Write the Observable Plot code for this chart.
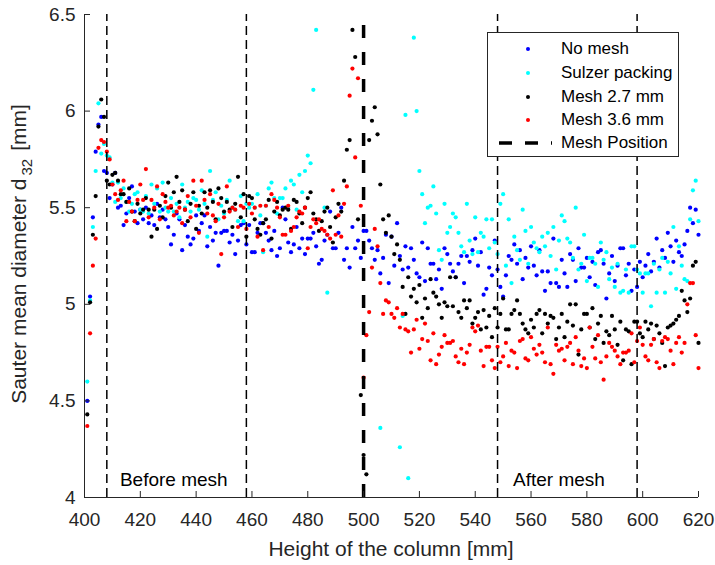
<!DOCTYPE html>
<html><head><meta charset="utf-8">
<script src="https://cdn.jsdelivr.net/npm/d3@7"></script>
<script src="https://cdn.jsdelivr.net/npm/@observablehq/plot@0.6"></script>
<style>
body{margin:0;background:#fff;font-family:"Liberation Sans",Arial,sans-serif;}
#wrap{position:relative;width:715px;height:565px;}
#legend{position:absolute;left:487px;top:32px;width:192px;height:125px;box-sizing:border-box;border:1px solid #262626;background:#fff;}
.lm{position:absolute;left:0;width:70px;height:20px;}
.lt{position:absolute;left:73px;height:20px;line-height:20px;font-size:17px;color:#000;white-space:nowrap;}
</style></head><body>
<div id="wrap"></div>
<script>
// ---- data (d32 in mm, one value per mm of column height from 401 to 620) ----
const heights = d3.range(401, 621);
const noMesh = [
4.50,5.04,5.45,5.79,5.93,5.97,5.69,5.68,5.55,5.62,
5.68,5.50,5.51,5.41,5.47,5.55,5.61,5.48,5.42,5.49,
5.44,5.50,5.42,5.46,5.41,5.52,5.45,5.49,5.44,5.40,
5.31,5.36,5.47,5.44,5.28,5.41,5.35,5.31,5.34,5.46,
5.38,5.42,5.46,5.30,5.40,5.33,5.37,5.20,5.37,5.38,
5.38,5.32,5.36,5.26,5.33,5.41,5.42,5.31,5.41,5.27,
5.27,5.37,5.42,5.42,5.37,5.33,5.28,5.38,5.25,5.29,
5.50,5.44,5.32,5.27,5.31,5.40,5.29,5.34,5.26,5.34,
5.34,5.37,5.30,5.21,5.23,5.33,5.36,5.48,5.29,5.29,
5.37,5.50,5.23,5.29,5.19,5.40,5.29,5.33,5.24,5.38,
5.38,5.33,5.29,5.23,5.28,5.16,5.24,5.36,5.11,5.35,
5.20,5.42,5.25,5.18,5.30,5.19,5.29,5.23,5.16,5.14,
5.32,5.12,5.29,5.21,5.21,5.13,5.18,5.08,5.29,5.26,
5.21,5.17,5.14,5.21,5.25,5.11,5.25,5.22,5.28,5.34,
5.20,5.27,5.05,5.08,5.19,5.15,5.33,5.18,5.09,5.04,
5.15,5.25,5.23,5.31,5.21,5.28,5.13,5.24,5.19,5.30,
5.20,5.15,5.28,5.17,5.07,5.17,5.11,5.34,5.11,5.09,
5.23,5.16,5.09,5.26,5.23,5.12,5.29,5.19,5.19,5.24,
5.14,5.22,5.10,5.27,5.28,5.21,5.03,5.16,5.25,5.12,
5.20,5.29,5.29,5.15,5.21,5.07,5.18,5.09,5.22,5.14,
5.20,5.26,5.17,5.22,5.34,5.19,5.28,5.24,5.37,5.30,
5.22,5.33,5.27,5.25,5.31,5.38,5.50,5.42,5.49,5.36];
const sulzer = [
4.60,5.02,5.40,5.69,6.04,5.78,5.83,5.77,5.76,5.63,
5.53,5.63,5.55,5.60,5.53,5.48,5.52,5.57,5.58,5.49,
5.48,5.56,5.47,5.62,5.52,5.60,5.48,5.63,5.50,5.48,
5.55,5.48,5.52,5.45,5.62,5.50,5.53,5.48,5.55,5.54,
5.49,5.59,5.52,5.35,5.69,5.54,5.58,5.44,5.51,5.47,
5.54,5.64,5.50,5.49,5.43,5.56,5.43,5.52,5.50,5.52,
5.50,5.57,5.46,5.27,5.51,5.60,5.63,5.55,5.47,5.55,
5.55,5.60,5.50,5.64,5.62,5.49,5.67,5.58,5.69,5.77,
5.73,6.11,6.42,null,null,5.50,5.06,null,null,null,
null,null,null,null,null,null,null,null,null,null,
null,null,null,null,null,4.36,null,null,null,null,
null,null,4.26,4.94,5.98,4.10,null,6.38,6.00,5.69,
5.57,5.42,5.50,5.51,5.61,5.47,5.28,5.23,5.52,5.37,
5.40,5.47,5.45,5.37,5.30,5.27,5.52,5.33,5.26,5.45,
5.27,5.37,5.35,5.44,5.29,5.44,5.32,5.26,5.52,5.57,
5.20,5.44,5.11,5.35,5.28,5.23,5.49,5.38,5.21,5.40,
5.32,5.29,5.27,5.35,5.30,5.37,5.25,5.40,5.18,5.33,
5.46,5.43,5.34,5.32,5.24,5.50,5.18,5.21,5.36,5.12,
5.24,5.24,5.21,5.09,5.32,5.23,5.27,5.13,5.19,5.09,
5.21,5.06,5.07,5.18,5.06,5.30,5.30,5.18,5.16,5.06,
5.16,5.16,4.99,5.21,5.06,5.18,5.24,5.06,5.22,5.16,
5.40,5.08,5.30,5.20,5.13,5.12,5.44,5.59,5.64,5.43];
const mesh27 = [
4.43,5.01,5.36,5.56,5.92,6.06,5.97,5.64,5.62,5.67,
5.68,5.64,5.57,5.57,5.53,5.60,5.48,5.43,5.52,5.47,
5.49,5.55,5.49,5.35,5.49,5.39,5.51,5.45,5.56,5.63,
5.50,5.58,5.66,5.53,5.59,5.49,5.43,5.52,5.58,5.39,
5.51,5.47,5.58,5.50,5.59,5.53,5.44,5.60,5.55,5.48,
5.53,5.49,5.40,5.52,5.66,5.45,5.57,5.35,5.56,5.55,
5.44,5.39,5.36,5.42,5.44,5.54,5.34,5.48,5.53,5.46,
5.49,5.50,5.49,5.39,5.54,5.53,5.47,5.42,5.50,5.55,
5.58,5.47,5.44,5.38,5.43,5.48,5.50,5.40,5.32,5.45,
5.52,5.48,5.64,5.80,5.85,6.42,6.28,5.44,4.53,4.22,
4.12,5.85,5.95,6.02,5.88,5.62,5.44,5.37,5.46,5.35,
5.26,5.31,5.23,5.09,4.95,5.14,5.04,5.08,5.01,5.10,
4.93,5.03,4.98,5.13,5.06,5.04,5.00,4.93,5.01,4.99,
5.14,4.99,5.14,4.96,4.93,5.02,4.98,5.02,4.90,4.93,
4.96,4.87,4.97,4.88,4.94,4.83,4.98,4.88,4.95,5.03,
4.87,4.87,4.95,4.97,5.02,4.95,4.90,4.87,4.85,4.92,
4.88,4.95,4.97,4.85,4.95,4.90,4.94,4.93,4.82,4.88,
4.95,4.83,4.91,5.00,4.89,5.00,4.74,4.87,4.95,4.95,
4.88,4.98,4.82,4.90,4.94,4.80,4.86,4.84,4.94,4.87,
4.79,4.91,4.71,4.87,4.86,4.69,4.91,4.91,4.85,4.83,
4.91,4.87,4.90,4.82,4.89,4.85,4.80,4.68,4.88,4.89,
4.90,4.92,4.94,5.07,5.02,4.96,5.03,5.20,5.22,4.80];
const mesh36 = [
4.37,4.85,5.20,5.34,5.81,5.85,5.84,5.79,5.75,5.62,
5.57,5.54,5.59,5.64,5.43,5.53,5.48,5.43,5.54,5.62,
5.54,5.70,5.45,5.54,5.50,5.61,5.44,5.57,5.53,5.50,
5.51,5.46,5.48,5.50,5.42,5.49,5.56,5.45,5.64,5.51,
5.37,5.64,5.54,5.47,5.57,5.46,5.43,5.52,5.26,5.45,
5.61,5.48,5.50,5.49,5.40,5.51,5.50,5.39,5.52,5.47,
5.50,5.35,5.51,5.28,5.51,5.40,5.57,5.54,5.50,5.45,
5.36,5.36,5.51,5.38,5.40,5.45,5.48,5.47,5.50,5.29,
5.40,5.44,5.42,5.44,5.39,5.38,5.36,5.34,5.59,5.36,
5.46,5.35,5.52,5.61,6.08,6.22,5.76,6.17,5.51,4.62,
4.84,4.96,5.19,5.39,5.30,5.11,4.95,5.02,5.01,4.95,
4.93,4.98,4.88,4.95,4.87,4.86,4.75,4.87,4.92,4.77,
4.82,4.90,4.81,4.71,4.85,4.69,4.74,4.78,4.84,4.80,
4.80,4.81,4.73,4.70,4.77,4.69,4.75,4.79,4.88,4.86,
4.89,4.76,4.68,4.78,4.78,4.71,4.67,4.78,4.70,4.73,
4.80,4.68,4.76,4.75,4.67,4.81,4.82,4.72,4.71,4.83,
4.77,4.74,4.79,4.75,4.70,4.88,4.69,4.64,4.79,4.76,
4.77,4.71,4.78,4.80,4.69,4.83,4.76,4.68,4.72,4.67,
4.88,4.78,4.72,4.84,4.70,4.61,4.73,4.80,4.78,4.76,
4.73,4.69,4.75,4.75,4.76,4.85,4.70,4.81,4.88,4.79,
4.73,4.71,4.79,4.82,4.70,4.67,4.81,4.83,4.82,4.76,
4.69,4.80,4.83,4.75,4.80,5.00,5.11,5.11,4.84,4.67];

const seriesNames = ["No mesh", "Sulzer packing", "Mesh 2.7 mm", "Mesh 3.6 mm"];
const seriesColors = ["#0000ff", "#00ffff", "#000000", "#ff0000"];
const sectionLines = [408, 458, 548, 598];
const meshPosition = [500];
const xTicks = [400, 420, 440, 460, 480, 500, 520, 540, 560, 580, 600, 620];
const yTicks = [4, 4.5, 5, 5.5, 6, 6.5];
const annotations = [
  {label: "Before mesh", x: 432, y: 4.09},
  {label: "After mesh", x: 570, y: 4.09}
];

const allSeries = [noMesh, sulzer, mesh27, mesh36];
const rows = [];
allSeries.forEach((vals, s) => vals.forEach((v, i) => {
  if (v != null) rows.push({height: heights[i], d32: v, series: seriesNames[s]});
}));

const axisColor = "#262626";
const chart = Plot.plot({
  width: 715, height: 565,
  marginLeft: 84, marginRight: 17, marginTop: 14, marginBottom: 68,
  x: {domain: [400, 620]},
  y: {domain: [4, 6.5]},
  color: {domain: seriesNames, range: seriesColors},
  style: {fontFamily: "'Liberation Sans', Arial, sans-serif", fontSize: "19px", color: axisColor, background: "white"},
  marks: [
    Plot.dot(rows, {x: "height", y: "d32", fill: "series", r: 2.1}),
    Plot.ruleX(sectionLines, {y1: 4, y2: 6.5, stroke: "#000", strokeWidth: 1.5, strokeDasharray: "9,5"}),
    Plot.ruleX(meshPosition, {y1: 4, y2: 6.5, stroke: "#000", strokeWidth: 3.5, strokeDasharray: "13,14"}),
    Plot.text(annotations, {x: "x", y: "y", text: "label", fontSize: 19, fill: "#000"}),
    Plot.ruleY([4], {stroke: axisColor}),
    Plot.ruleX([400], {stroke: axisColor}),
    Plot.axisX({ticks: xTicks, tickSize: -6, tickFormat: () => "", label: null, stroke: axisColor}),
    Plot.axisX({ticks: xTicks, tickSize: 0, tickPadding: 15, tickFormat: d => String(d), label: null, fill: axisColor}),
    Plot.axisY({ticks: yTicks, tickSize: -6, tickFormat: () => "", label: null, stroke: axisColor}),
    Plot.axisY({ticks: yTicks, tickSize: 0, tickPadding: 9, tickFormat: d => String(d), label: null, fill: axisColor})
  ]
});

const svg = d3.select(chart);
svg.append("text")
  .attr("x", 391).attr("y", 556)
  .attr("text-anchor", "middle")
  .attr("font-size", 21).attr("fill", axisColor)
  .text("Height of the column [mm]");
const yl = svg.append("text")
  .attr("transform", "translate(26,254) rotate(-90)")
  .attr("text-anchor", "middle")
  .attr("font-size", 21).attr("fill", axisColor)
  .style("white-space", "pre");
yl.append("tspan").text("Sauter mean diameter d");
yl.append("tspan").attr("font-size", 15).attr("dx", 3).attr("dy", 6).text("32");
yl.append("tspan").attr("dx", 8).attr("dy", -6).text("[mm]");

const wrap = document.getElementById("wrap");
wrap.appendChild(chart);

// ---- legend ----
const legend = document.createElement("div");
legend.id = "legend";
const legendItems = seriesNames.map((n, i) => ({label: n, color: seriesColors[i], kind: "dot"}))
  .concat([{label: "Mesh Position", color: "#000", kind: "line"}]);
const rowCenters = [16, 40, 64, 87, 110];
legendItems.forEach((it, i) => {
  const top = rowCenters[i] - 10;
  const m = document.createElementNS("http://www.w3.org/2000/svg", "svg");
  m.setAttribute("class", "lm");
  m.setAttribute("width", 70); m.setAttribute("height", 20);
  m.style.top = top + "px";
  if (it.kind === "dot") {
    const c = document.createElementNS("http://www.w3.org/2000/svg", "circle");
    c.setAttribute("cx", 40); c.setAttribute("cy", 10); c.setAttribute("r", 2);
    c.setAttribute("fill", it.color);
    m.appendChild(c);
  } else {
    const l = document.createElementNS("http://www.w3.org/2000/svg", "line");
    l.setAttribute("x1", 11); l.setAttribute("x2", 64); l.setAttribute("y1", 10); l.setAttribute("y2", 10);
    l.setAttribute("stroke", "#000"); l.setAttribute("stroke-width", 3.5);
    l.setAttribute("stroke-dasharray", "13,13");
    m.appendChild(l);
  }
  legend.appendChild(m);
  const t = document.createElement("div");
  t.className = "lt";
  t.style.top = top + "px";
  t.textContent = it.label;
  legend.appendChild(t);
});
wrap.appendChild(legend);
</script>
</body></html>
